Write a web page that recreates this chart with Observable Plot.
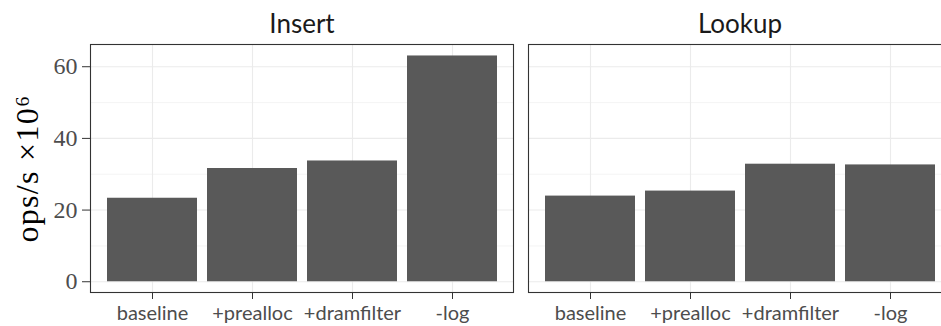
<!DOCTYPE html>
<html>
<head>
<meta charset="utf-8">
<script src="https://cdn.jsdelivr.net/npm/d3@7"></script>
<script src="https://cdn.jsdelivr.net/npm/@observablehq/plot@0.6"></script>
<style>
  html, body { margin: 0; padding: 0; background: #fff; overflow: hidden; }
  #chart svg { display: block; overflow: hidden; }
  /* y-axis title: a touch of tracking for the wide serif look */
  #chart g[aria-label="text"] text { letter-spacing: 1.3px; }
</style>
</head>
<body>
<div id="chart"></div>
<script>
// Throughput of each variant, per operation (millions of ops per second)
const operations = ["Insert", "Lookup"];
const variants = ["baseline", "+prealloc", "+dramfilter", "-log"];
const insertValues = [23.3, 31.6, 33.7, 63.0];
const lookupValues = [23.9, 25.3, 32.8, 32.6];
const yTicks = [0, 20, 40, 60];
const yMinorTicks = [10, 30, 50];
const yTitle = "ops/s ×10⁶";

const rows = [
  ...variants.map((v, i) => ({op: "Insert", variant: v, value: insertValues[i]})),
  ...variants.map((v, i) => ({op: "Lookup", variant: v, value: lookupValues[i]}))
];

const grid = "#ebebeb";

// The right-hand panel runs past the edge of the 941px canvas, so its
// border is cut off (negative right margin).
const chart = Plot.plot({
  width: 941,
  height: 326,
  marginLeft: 90,
  marginRight: -10.6,
  marginTop: 44,
  marginBottom: 34,
  style: {background: "#fff", fontFamily: "Lato"},
  fx: {domain: operations, paddingInner: 0.0342, paddingOuter: 0, label: null},
  x: {domain: variants, paddingInner: 0.1, paddingOuter: 0.15, label: null},
  y: {domain: [-3, 66.2], label: null},
  marks: [
    Plot.gridY(yMinorTicks, {stroke: grid, strokeOpacity: 1, strokeWidth: 0.55}),
    Plot.gridY(yTicks, {stroke: grid, strokeOpacity: 1, strokeWidth: 1.1}),
    Plot.gridX(variants, {stroke: grid, strokeOpacity: 1, strokeWidth: 1.1}),
    Plot.barY(rows, {fx: "op", x: "variant", y: "value", fill: "#595959"}),
    Plot.frame({stroke: "#333333", strokeWidth: 1.1}),
    Plot.axisY(yTicks, {
      anchor: "left", tickSize: 8, tickPadding: 5, fontSize: 24,
      fontFamily: "Liberation Serif", fill: "#4d4d4d", stroke: "#333333", label: null
    }),
    Plot.axisX({
      anchor: "bottom", tickSize: 7, tickPadding: 6, fontSize: 20,
      fill: "#4d4d4d", stroke: "#333333", label: null
    }),
    Plot.axisFx({
      anchor: "top", tickSize: 0, tickPadding: 12, fontSize: 26,
      fill: "#1a1a1a", label: null
    }),
    Plot.text([yTitle], {
      fx: ["Insert"], frameAnchor: "left", textAnchor: "middle", rotate: -90, dx: -62.5,
      fontSize: 32, fontFamily: "Liberation Serif", fill: "#000"
    })
  ]
});

document.getElementById("chart").appendChild(chart);
</script>
</body>
</html>
